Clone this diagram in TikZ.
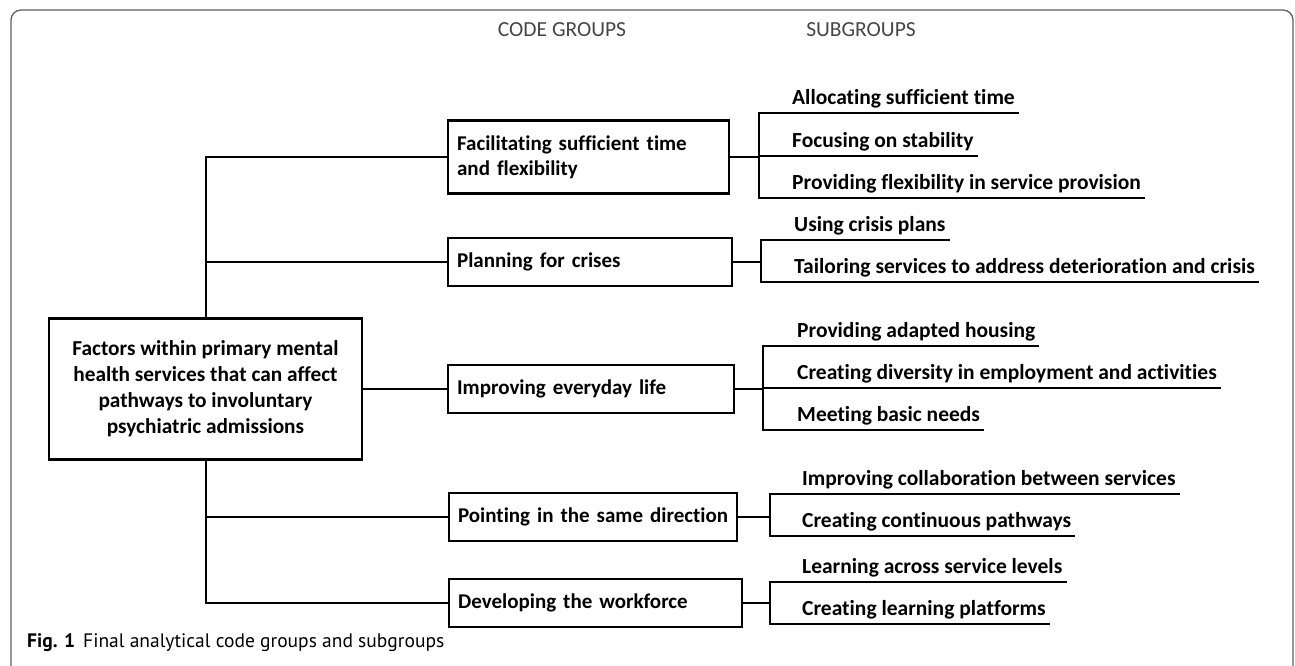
\documentclass[tikz,border=0pt]{standalone}
\usepackage{fontspec}
\setmainfont{Carlito}[Ligatures=NoCommon]
\newfontfamily\capfont{PT Sans}
\usepackage{tikz}
\usetikzlibrary{positioning,calc}

\definecolor{framegray}{RGB}{95,95,95}
\definecolor{headgray}{RGB}{70,70,70}

\tikzset{
  rootbox/.style={draw, line width=2.2pt, fill=white, align=center, minimum width=313pt, minimum height=141pt,
    font=\fontsize{21.3}{26}\selectfont\bfseries},
  groupbox/.style={draw, line width=2.2pt, anchor=west, align=left, text width=270pt, inner xsep=9pt,
    minimum height=48pt, font=\fontsize{21}{25}\selectfont\bfseries},
  subtext/.style={anchor=south west, inner xsep=4pt, inner ysep=8pt, text height=15pt, text depth=0pt,
    font=\fontsize{21.5}{24}\selectfont\bfseries},
  link/.style={line width=2pt},
  header/.style={text=headgray, font=\fontsize{21.5}{24}\selectfont}
}

\begin{document}
\begin{tikzpicture}[x=1pt, y=-1pt]
  \useasboundingbox (0,0) rectangle (1295,666);
  \draw[framegray, line width=1.3pt, rounded corners=10pt] (11,680) -- (11,10) -- (1293,10) -- (1293,680);

  \node[header] (hcode) at (562,30) {CODE GROUPS};
  \node[header] (hsub) at (861,30) {SUBGROUPS};

  % root and code groups
  \node[rootbox] (root) at (205.5,389) {Factors within primary mental\\health services that can affect\\pathways to involuntary\\psychiatric admissions};

  \node[groupbox, minimum height=73pt, text width=263pt] (g1) at (447,157) {Facilitating sufficient time\\and flexibility};
  \node[groupbox, text width=266pt] (g2) at (447,262) {Planning for crises};
  \node[groupbox, text width=268pt] (g3) at (447,389) {Improving everyday life};
  \node[groupbox] (g4) at (448,517) {Pointing in the same direction};
  \node[groupbox, text width=275pt] (g5) at (448,603) {Developing the workforce};

  \draw[link] (g1.west) -| (root.north);
  \draw[link] (g2.west) -| (root.north);
  \draw[link] (root.east) -- (g3.west);
  \draw[link] (g4.west) -| (root.south);
  \draw[link] (g5.west) -| (root.south);

  % subgroups
  \coordinate (b1) at (759,157);
  \coordinate (b2) at (761,262);
  \coordinate (b3) at (763,389);
  \coordinate (b4) at (770,517);
  \coordinate (b5) at (770,603);

  \node[subtext] (s11) at (788,113) {Allocating sufficient time};
  \node[subtext] (s12) at (788,156) {Focusing on stability};
  \node[subtext] (s13) at (788,198) {Providing flexibility in service provision};

  \node[subtext] (s21) at (790,240) {Using crisis plans};
  \node[subtext] (s22) at (790,282) {Tailoring services to address deterioration and crisis};

  \node[subtext] (s31) at (793,346) {Providing adapted housing};
  \node[subtext] (s32) at (793,388) {Creating diversity in employment and activities};
  \node[subtext] (s33) at (793,430) {Meeting basic needs};

  \node[subtext] (s41) at (798,494) {Improving collaboration between services};
  \node[subtext] (s42) at (798,536) {Creating continuous pathways};

  \node[subtext] (s51) at (798,582) {Learning across service levels};
  \node[subtext] (s52) at (798,624) {Creating learning platforms};

  \draw[link] (g1.east |- b1) -- (b1);
  \foreach \s in {s11,s12,s13} \draw[link] (b1) |- (\s.south east);
  \draw[link] (g2.east |- b2) -- (b2);
  \foreach \s in {s21,s22} \draw[link] (b2) |- (\s.south east);
  \draw[link] (g3.east |- b3) -- (b3);
  \foreach \s in {s31,s32,s33} \draw[link] (b3) |- (\s.south east);
  \draw[link] (g4.east |- b4) -- (b4);
  \foreach \s in {s41,s42} \draw[link] (b4) |- (\s.south east);
  \draw[link] (g5.east |- b5) -- (b5);
  \foreach \s in {s51,s52} \draw[link] (b5) |- (\s.south east);

  \node[anchor=base west, inner sep=0pt, font=\capfont\fontsize{19.5}{22}\selectfont] (cap) at (27,647)
    {\textbf{Fig. 1}\hspace{8pt}Final analytical code groups and subgroups};
\end{tikzpicture}
\end{document}
